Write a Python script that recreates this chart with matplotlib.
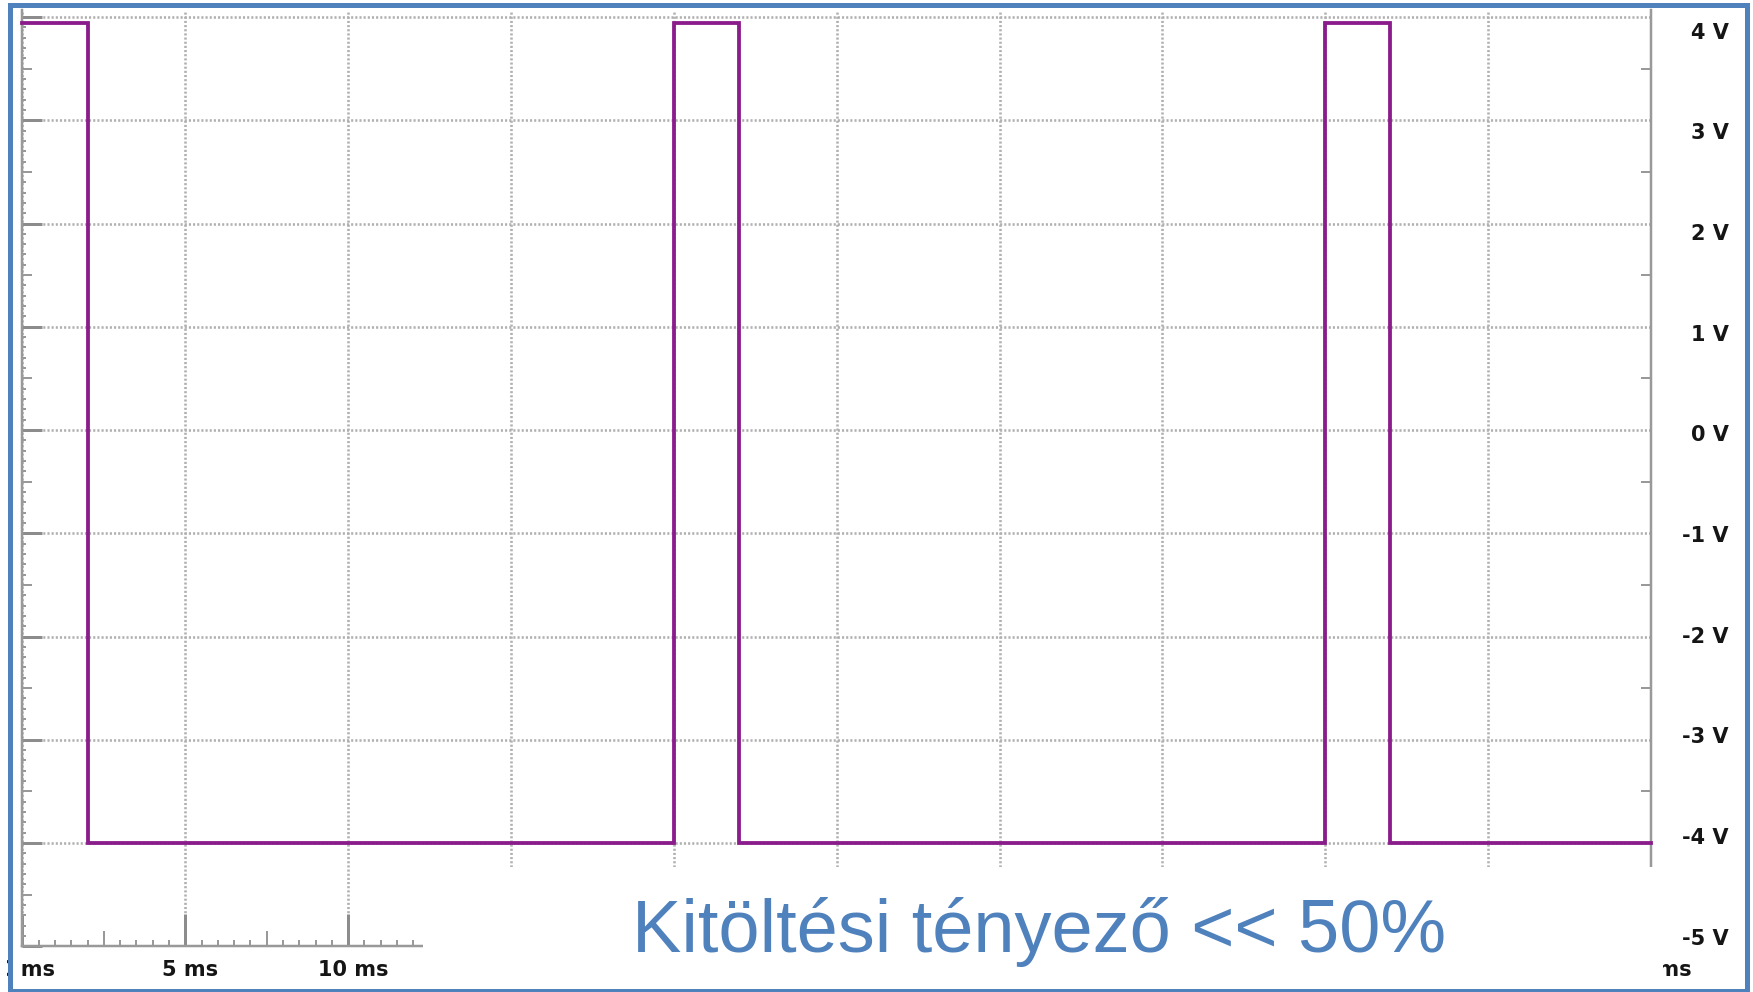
import numpy as np
import matplotlib.pyplot as plt
from matplotlib import markers
from matplotlib.patches import Rectangle
from matplotlib.transforms import ScaledTranslation

# PWM signal: 20 ms period, 2 ms high time
edge_ms = [0, 2, 20, 22, 40, 42, 50]
level_v = [3.94, -4.0, 3.94, -4.0, 3.94, -4.0, -4.0]

time_ticks = [0, 5, 10, 15, 20, 25, 30, 35, 40, 45, 50]
# only these time labels are left uncovered by the caption box
shown_times = [0, 5, 10, 50]
volt_grid = [-5, -4, -3, -2, -1, 0, 1, 2, 3, 4]
volt_labels = [4, 3, 2, 1, 0, -1, -2, -3, -4, -5]
caption = "Kitöltési tényező << 50%"

DPI = 100
W, H = 1753, 992
PT = 72 / DPI          # points per pixel

TRACE = "#8b1c8b"
GRID = "#b0b0b0"
AXIS = "#999999"
FRAME = "#4f81bd"
LABEL = "#151515"


def scope_plot():
    fig = plt.figure(figsize=(W / DPI, H / DPI), dpi=DPI)
    fig.patch.set_facecolor("white")

    # screen area: 0..50 ms, -5..~4 V
    ax = fig.add_axes([22.4 / W, (H - 946.25) / H, 1628.6 / W, 936.25 / H])
    ax.set_xlim(0, 50)
    ax.set_ylim(-5, 4.068)

    ax.step(edge_ms, level_v, where="post", color=TRACE, lw=3.8 * PT,
            solid_joinstyle="miter", zorder=4, clip_on=False)

    ax.set_xticks(time_ticks)
    ax.set_xticks(np.arange(0, 50.01, 0.5), minor=True)
    ax.set_yticks(volt_grid)
    ax.set_yticks(np.arange(-5, 4.01, 0.1), minor=True)
    ax.grid(True, which="major", color=GRID, lw=2.6 * PT,
            linestyle=(0, (0.8, 0.8)), zorder=1)
    ax.set_axisbelow(True)

    for side in ["left", "right", "bottom"]:
        ax.spines[side].set_color(AXIS)
        ax.spines[side].set_linewidth(2.5 * PT)
    ax.spines["top"].set_visible(False)

    ax.tick_params(axis="y", which="major", direction="in", left=True, right=True,
                   length=20 * PT, width=3 * PT, color="#8c8c8c", labelleft=False)
    ax.tick_params(axis="y", which="minor", direction="in", left=True, right=True,
                   length=4 * PT, width=2 * PT, color=AXIS)
    ax.tick_params(axis="x", which="major", direction="in", top=False,
                   length=32 * PT, width=3 * PT, color="#8c8c8c", pad=10)
    ax.tick_params(axis="x", which="minor", direction="in", top=False,
                   length=6 * PT, width=2 * PT, color=AXIS)

    # half-division ticks are a bit longer
    half_v = np.arange(-4.5, 4.0, 1.0)
    half_t = np.arange(2.5, 50, 5.0)
    ax.plot(np.zeros_like(half_v), half_v, ls="none", marker=markers.TICKRIGHT,
            ms=10 * PT, mew=2 * PT, color=AXIS, clip_on=False, zorder=3)
    ax.plot(np.full_like(half_v, 50), half_v, ls="none", marker=markers.TICKLEFT,
            ms=10 * PT, mew=2 * PT, color=AXIS, clip_on=False, zorder=3)
    ax.plot(half_t, np.full_like(half_t, -5), ls="none", marker=markers.TICKUP,
            ms=15 * PT, mew=2 * PT, color=AXIS, clip_on=False, zorder=3)

    ax.set_xticklabels([f"{t} ms" if t in shown_times else "" for t in time_ticks],
                       fontsize=15, fontweight="bold", color=LABEL,
                       family="DejaVu Sans")
    shift = ScaledTranslation(5 / DPI, 0, fig.dpi_scale_trans)
    for lab in ax.get_xticklabels():
        lab.set_transform(lab.get_transform() + shift)

    # voltage readout column on the right
    ax2 = ax.twinx()
    ax2.set_ylim(-5.0947, 4.2036)
    ax2.set_yticks(volt_labels)
    ax2.set_yticklabels([f"{v} V" for v in volt_labels], fontsize=15,
                        fontweight="bold", color=LABEL, family="DejaVu Sans")
    ax2.tick_params(axis="y", length=0, pad=78 * PT)
    for lab in ax2.get_yticklabels():
        lab.set_horizontalalignment("right")
    for s in ax2.spines.values():
        s.set_visible(False)

    # white caption box laid over the lower part of the screen
    fig.add_artist(Rectangle((423 / W, 7 / H), 1240 / W, 118 / H,
                             transform=fig.transFigure, facecolor="white",
                             edgecolor="none", zorder=5))
    fig.add_artist(Rectangle((0, 0), 7 / W, 1, transform=fig.transFigure,
                             facecolor="white", edgecolor="none", zorder=5))
    fig.add_artist(Rectangle((9.5 / W, 1.5 / H), 1737 / W, 986 / H,
                             transform=fig.transFigure, facecolor="none",
                             edgecolor=FRAME, lw=5 * PT, zorder=6))
    fig.text(632 / W, 40 / H, caption, fontsize=74 * PT, family="Liberation Sans",
             color=FRAME, ha="left", va="baseline", zorder=7)

    fig.savefig("out.png", dpi=DPI)


def main():
    scope_plot()


if __name__ == "__main__":
    main()
